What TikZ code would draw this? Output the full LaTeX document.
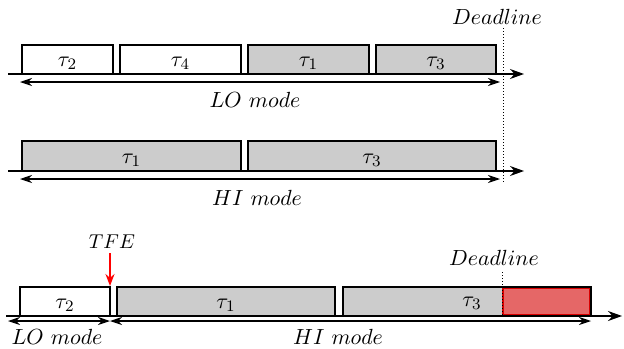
\documentclass[tikz,border=0pt]{standalone}
\usetikzlibrary{arrows.meta}
\begin{document}
\begin{tikzpicture}[x=0.5pt,y=-0.5pt,
  every node/.style={font=\fontsize{11}{13}\selectfont},
  lobox/.style={draw=black,fill=white,line width=0.65pt},
  hibox/.style={draw=black,fill=black!20,line width=0.65pt},
  axis/.style={line width=0.65pt,-{Stealth[length=7pt,width=5pt]}},
  span/.style={line width=0.55pt,{Stealth[length=6pt,width=4pt]}-{Stealth[length=6pt,width=4pt]}},
  dl/.style={densely dotted,line width=0.5pt},
  lbl/.style={inner sep=0pt}]
\useasboundingbox (0,0) rectangle (624,348);
% Row 1
\coordinate (a1s) at (8,74); \coordinate (a1e) at (524,74);
\draw[axis] (a1s) -- (a1e);
\draw[lobox] (22,45) rectangle node[yshift=-2pt]{$\tau_2$} (113,74);
\draw[lobox] (120,45) rectangle node[yshift=-2pt]{$\tau_4$} (241,74);
\draw[hibox] (248,45) rectangle node[yshift=-2pt]{$\tau_1$} (369,74);
\draw[hibox] (376,45) rectangle node[yshift=-2pt]{$\tau_3$} (496,74);
\coordinate (s1a) at (20,82); \coordinate (s1b) at (500,82);
\draw[span] (s1a) -- (s1b);
\node[lbl] (lo1) at (255,100) {$LO\ mode$};
% Deadline 1
\node[lbl] (dl1) at (497,17) {$Deadline$};
\coordinate (d1t) at (503,28); \coordinate (d1b) at (503,184);
\draw[dl] (d1t) -- (d1b);
% Row 2
\coordinate (a2s) at (8,171); \coordinate (a2e) at (524,171);
\draw[axis] (a2s) -- (a2e);
\draw[hibox] (22,141) rectangle node[yshift=-2pt]{$\tau_1$} (241,171);
\draw[hibox] (248,141) rectangle node[yshift=-2pt]{$\tau_3$} (496,171);
\coordinate (s2a) at (20,179); \coordinate (s2b) at (500,179);
\draw[span] (s2a) -- (s2b);
\node[lbl] (hi2) at (257,198) {$HI\ mode$};
% Row 3
\coordinate (a3s) at (6,316); \coordinate (a3e) at (622,316);
\draw[axis] (a3s) -- (a3e);
\draw[lobox] (20,287) rectangle node[yshift=-2pt]{$\tau_2$} (110,316);
\draw[hibox] (117,287) rectangle node[yshift=-2pt]{$\tau_1$} (335,316);
\draw[hibox] (343,287) rectangle (591,316);
\fill[red!55!white!90!black] (503,288.5) rectangle (589.5,314.5);
\draw[red!85!black,line width=0.6pt] (503,288.5) rectangle (589.5,314.5);
\draw[line width=0.65pt] (343,287) rectangle (591,316);
\node[lbl] (t3c) at (472,303) {$\tau_3$};
\coordinate (d3t) at (502,272); \coordinate (d3b) at (502,316);
\draw[dl] (d3t) -- (d3b);
\node[lbl] (dl3) at (494,258) {$Deadline$};
\node[lbl,font=\fontsize{10}{12}\selectfont] (tfe) at (112,242) {$TFE$};
\coordinate (tfet) at (110,253);
\coordinate (tfeb) at (110,286);
\draw[red,line width=0.8pt,-{Stealth[length=6pt,width=4.5pt]}] (tfet) -- (tfeb);
\coordinate (s3a) at (8,321); \coordinate (s3m) at (110,321); \coordinate (s3b) at (591,321);
\draw[span] (s3a) -- (s3m);
\draw[span] (s3m) -- (s3b);
\node[lbl] (lo3) at (57,337) {$LO\ mode$};
\node[lbl] (hi3) at (338,337) {$HI\ mode$};
\end{tikzpicture}
\end{document}
